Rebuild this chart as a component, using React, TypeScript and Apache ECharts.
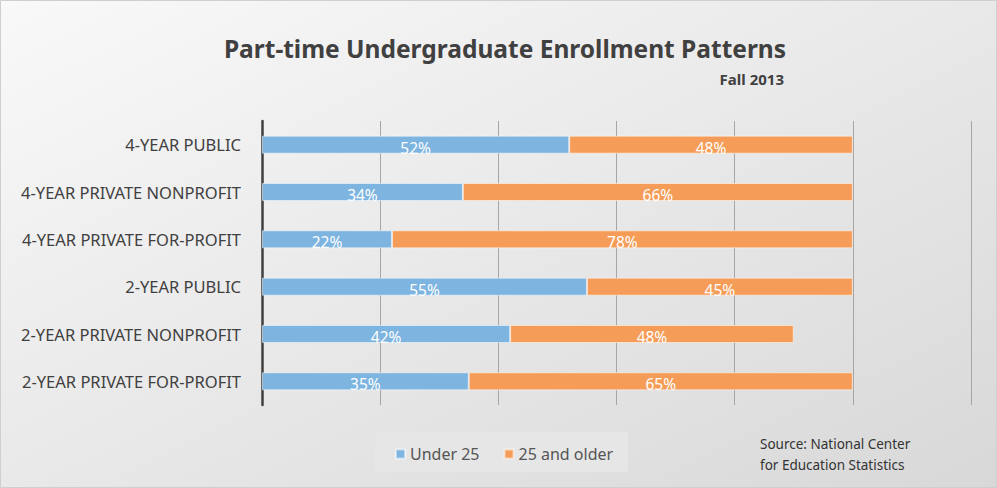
import React, { useEffect, useRef } from "react";
import * as echarts from "echarts";

const categories = [
  "4-YEAR PUBLIC",
  "4-YEAR PRIVATE NONPROFIT",
  "4-YEAR PRIVATE FOR-PROFIT",
  "2-YEAR PUBLIC",
  "2-YEAR PRIVATE NONPROFIT",
  "2-YEAR PRIVATE FOR-PROFIT",
];
const under25 = [52, 34, 22, 55, 42, 35];
const over25 = [48, 66, 78, 45, 48, 65];
const seriesNames = ["Under 25", "25 and older"];

const FONT = "'Noto Sans', sans-serif";

export default function App() {
  const ref = useRef<HTMLDivElement>(null);
  useEffect(() => {
    document.body.style.margin = "0";
    if (!ref.current) return;
    const chart = echarts.init(ref.current, null, { renderer: "svg" });
    const label = {
      show: true,
      position: "inside",
      color: "#ffffff",
      fontSize: 15.5,
      fontFamily: FONT,
      offset: [0, 3],
      formatter: "{c}%",
    };
    chart.setOption({
      animation: false,
      backgroundColor: {
        type: "linear",
        x: 0,
        y: 0,
        x2: 1,
        y2: 1,
        colorStops: [
          { offset: 0, color: "#f9f9f9" },
          { offset: 1, color: "#d8d8d8" },
        ],
      },
      textStyle: { fontFamily: FONT },
      title: [
        {
          text: "Part-time Undergraduate Enrollment Patterns",
          left: 500,
          textAlign: "center",
          top: 31,
          textStyle: { fontSize: 24.5, fontWeight: "bold", color: "#404040", fontFamily: FONT },
        },
        {
          text: "Fall 2013",
          right: 208,
          top: 66,
          textStyle: { fontSize: 15, fontWeight: "bold", color: "#404040", fontFamily: FONT },
        },
      ],
      graphic: [
        {
          type: "rect",
          shape: { x: 0.5, y: 0.5, width: 996, height: 487 },
          style: { fill: "none", stroke: "#cfcfcf", lineWidth: 1 },
          silent: true,
        },
        {
          type: "rect",
          z: -1,
          shape: { x: 375, y: 432, width: 253, height: 40 },
          style: { fill: "#e6e6e6" },
          silent: true,
        },
        {
          type: "text",
          left: 760,
          top: 433,
          style: {
            text: "Source: National Center\nfor Education Statistics",
            fontSize: 13.5,
            lineHeight: 21,
            fill: "#333333",
            fontFamily: FONT,
          },
        },
      ],
      legend: {
        left: 390,
        top: 441,
        itemWidth: 9,
        itemHeight: 9,
        itemGap: 24,
        icon: "rect",
        textStyle: { fontSize: 16, color: "#555555", fontFamily: FONT },
        data: seriesNames,
      },
      grid: { left: 262, right: 26, top: 121, bottom: 83, containLabel: false },
      xAxis: {
        type: "value",
        min: 0,
        max: 120,
        interval: 20,
        axisLabel: { show: false },
        axisLine: { show: false },
        axisTick: { show: false },
        splitLine: { show: true, lineStyle: { color: "#a6a6a6", width: 1 } },
      },
      yAxis: {
        type: "category",
        inverse: true,
        data: categories,
        axisLine: { show: true, lineStyle: { color: "#404040", width: 2.5 } },
        axisTick: { show: false },
        axisLabel: { fontSize: 16.5, color: "#404040", margin: 21, fontFamily: FONT },
      },
      series: [
        {
          name: seriesNames[0],
          type: "bar",
          stack: "total",
          barWidth: 18,
          data: under25,
          itemStyle: { color: "#7db4e0", borderColor: "rgba(255,255,255,0.5)", borderWidth: 1 },
          label,
        },
        {
          name: seriesNames[1],
          type: "bar",
          stack: "total",
          barWidth: 18,
          data: over25,
          itemStyle: { color: "#f59d58", borderColor: "rgba(255,255,255,0.5)", borderWidth: 1 },
          label,
        },
      ],
    });
    return () => chart.dispose();
  }, []);
  return <div ref={ref} style={{ width: 997, height: 488 }} />;
}
